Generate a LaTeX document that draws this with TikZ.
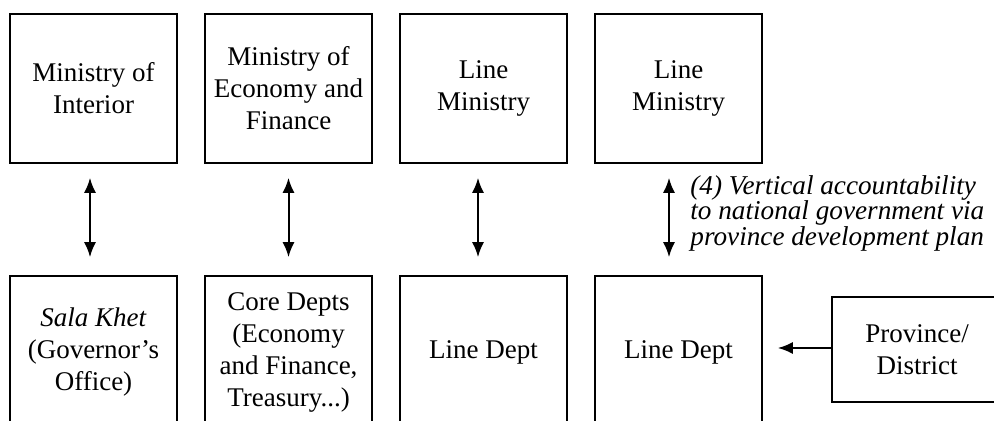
\documentclass[tikz,border=0pt]{standalone}
\usepackage{fontspec}
\setmainfont{Liberation Serif}
\usetikzlibrary{arrows.meta}
% allow the tight leading of the italic note
\lineskiplimit=-20pt
\begin{document}
\begin{tikzpicture}[x=0.5pt,y=-0.5pt,
  box/.style={draw, line width=0.8pt, minimum width=83.5pt, minimum height=74.5pt,
    inner sep=2pt, align=center, font=\fontsize{13.5}{16}\selectfont},
  lowbox/.style={box, minimum height=76pt},
  tip/.tip={Latex[length=7.5pt,width=6pt]},
  link/.style={line width=1pt, tip-tip, shorten <=7pt, shorten >=9pt},
  feed/.style={line width=1pt, -tip, shorten >=7.5pt},
  note/.style={anchor=north west, inner sep=0pt, align=left,
    font=\itshape\fontsize{13.6}{12.75}\selectfont},
]
\useasboundingbox (0,0) rectangle (994,421);
\begin{scope}
  \clip (0,0) rectangle (994,421);
  % national level
  \node[box] (moi) at (93.5,88.5) {Ministry of\\Interior};
  \node[box] (mef) at (288.5,88.5) {Ministry of\\Economy and\\Finance};
  \node[box] (lm1) at (483.5,88.5) {Line\\Ministry};
  \node[box] (lm2) at (678.5,88.5) {Line\\Ministry};
  % province level
  \node[lowbox] (sala) at (93.5,352) {\textit{Sala Khet}\\(Governor's\\Office)};
  \node[lowbox] (core) at (288.5,352) {Core Depts\\(Economy\\and Finance,\\Treasury...)};
  \node[lowbox] (ld1) at (483.5,352) {Line Dept};
  \node[lowbox] (ld2) at (678.5,352) {Line Dept};
  \node[box, minimum width=85pt, minimum height=52.5pt] (prov) at (917,349.5) {Province/\\District};
\end{scope}
% vertical links
\draw[link] ([xshift=-1.75pt]moi.south) -- ([xshift=-1.75pt]sala.north);
\draw[link] (mef.south) -- (core.north);
\draw[link] ([xshift=-2.75pt]lm1.south) -- ([xshift=-2.75pt]ld1.north);
\draw[link] ([xshift=-4.75pt]lm2.south) -- ([xshift=-4.75pt]ld2.north);
\draw[feed] ([yshift=0.75pt]prov.west) -- ([yshift=0.75pt]prov.west -| ld2.east);
\node[note] (acc) at (690,175) {(4) Vertical accountability\\to national government via\\province development plan};
\end{tikzpicture}
\end{document}
